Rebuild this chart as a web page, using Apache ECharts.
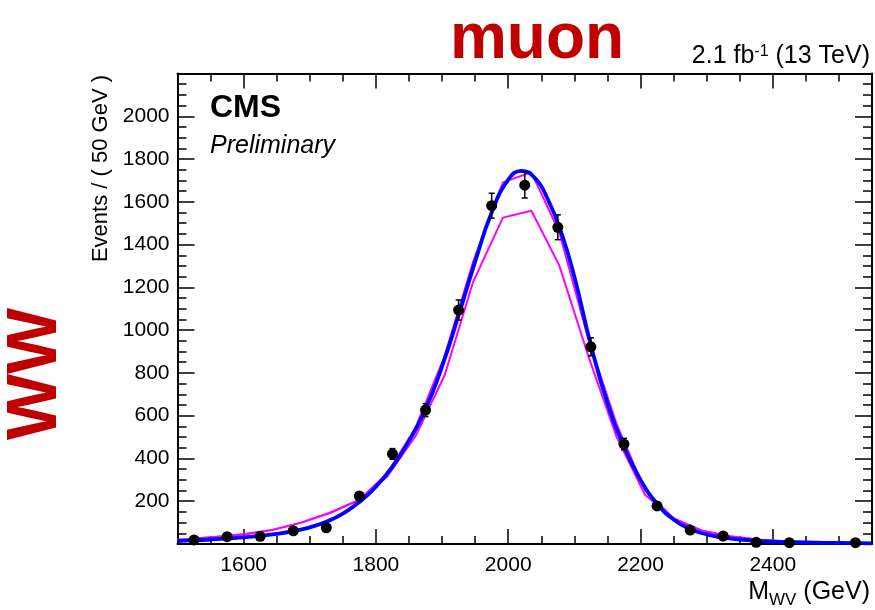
<!DOCTYPE html>
<html><head><meta charset="utf-8">
<script src="https://cdn.jsdelivr.net/npm/echarts@6/dist/echarts.min.js"></script>
<style>html,body{margin:0;padding:0;background:#fff}#c{width:875px;height:610px}</style>
</head><body><div id="c"></div>
<script>
// ---- data ----
const binCenters = [1525,1575,1625,1675,1725,1775,1825,1875,1925,1975,2025,2075,2125,2175,2225,2275,2325,2375,2425,2475,2525];
const dataValues = [19,34,36,62,76,224,421,626,1094,1582,1678,1481,922,467,178,65,37,8,6,null,6];
const dataErrors = [6,8,8,10,11,18,25,30,47,58,60,58,42,27,16,10,8,4,4,null,4];

const fitX = [1500,1525,1550,1575,1600,1625,1650,1675,1700,1725,1750,1775,1800,1825,1850,1875,1900,1925,1950,1975,2000,2020,2040,2060,2080,2100,2125,2150,2175,2200,2225,2250,2275,2300,2325,2350,2375,2400,2450,2500,2550];
const fitY = [14,17,21,26,31,38,47,60,78,104,142,196,268,362,482,630,830,1070,1320,1550,1703,1745,1712,1611,1458,1250,930,660,455,300,188,115,70,45,30,21,15,11,7,5,3];

const magX      = [1500,1514,1557,1600,1644,1687,1730,1774,1817,1860,1904,1947,1992,2035,2077,2121,2164,2207,2250,2293,2337,2380,2423,2466,2510,2550];
const magUpperY = [20,22,33,46,66,100,145,205,330,545,880,1320,1691,1738,1460,960,560,250,120,62,35,20,12,8,5,4];
const magLowerY = [20,22,33,46,66,100,145,205,315,505,790,1226,1526,1558,1304,880,500,229,120,62,35,20,12,8,5,4];

const xMajorTicks = [1600,1800,2000,2200,2400];
const xMinorTicks = [1550,1650,1700,1750,1850,1900,1950,2050,2100,2150,2250,2300,2350,2450,2500];

// ---- build ----
const pts = [], errs = [];
binCenters.forEach((x,i)=>{ if(dataValues[i]!=null){ pts.push([x,dataValues[i]]); errs.push([x,dataValues[i],dataErrors[i]]); } });
const fitData = fitX.map((x,i)=>[x,fitY[i]]);
const magU = magX.map((x,i)=>[x,magUpperY[i]]);
const magL = magX.map((x,i)=>[x,magLowerY[i]]);

const FONT = '"Liberation Sans", Arial, Helvetica, sans-serif';
const black = '#000';
const plain = v => String(v);
function xAx(pos, ticks, len, labels, line){
  return {type:'value', min:1500, max:2550, position:pos,
    axisLine:{show:line, onZero:false, lineStyle:{color:black,width:2}},
    axisTick:{show:true, inside:true, length:len, customValues:ticks, lineStyle:{color:black,width:1.5}},
    axisLabel:labels?{show:true, customValues:ticks, formatter:plain, color:black, fontSize:21, fontFamily:FONT, margin:11}:{show:false},
    splitLine:{show:false}};
}
function yAx(pos, labels){
  return {type:'value', min:0, max:2200, interval:200, position:pos,
    axisLine:{show:true, onZero:false, lineStyle:{color:black,width:2}},
    axisTick:{show:true, inside:true, length:17, lineStyle:{color:black,width:1.5}},
    minorTick:{show:true, splitNumber:4, length:9, lineStyle:{color:black,width:1.5}},
    axisLabel:labels?{show:true, formatter:plain, color:black, fontSize:21, fontFamily:FONT, margin:8, showMinLabel:false, showMaxLabel:false}:{show:false},
    splitLine:{show:false}, minorSplitLine:{show:false}};
}

const chart = echarts.init(document.getElementById('c'), null, {renderer:'canvas'});
chart.setOption({
  animation:false,
  backgroundColor:'#fff',
  grid:{left:177.5, right:3, top:73.5, bottom:66, containLabel:false},
  xAxis:[xAx('bottom',xMajorTicks,15,true,true), xAx('bottom',xMinorTicks,8,false,false),
         xAx('top',xMajorTicks,15,false,true), xAx('top',xMinorTicks,8,false,false)],
  yAxis:[yAx('left',true), yAx('right',false)],
  series:[
    {type:'line', data:magL, showSymbol:false, lineStyle:{color:'#ff00ff',width:2}, z:2},
    {type:'line', data:magU, showSymbol:false, lineStyle:{color:'#ff00ff',width:2}, z:2},
    {type:'line', data:fitData, showSymbol:false, smooth:0.5, lineStyle:{color:'#0000ff',width:3.8}, z:3},
    {type:'custom', data:errs, z:4, renderItem:function(params, api){
        const x=api.value(0), y=api.value(1), e=api.value(2);
        const t=api.coord([x,y+e]), b=api.coord([x,y-e]);
        const st={stroke:'#000',lineWidth:1.5};
        return {type:'group', children:[
          {type:'line', shape:{x1:t[0],y1:t[1],x2:b[0],y2:b[1]}, style:st},
          {type:'line', shape:{x1:t[0]-3,y1:t[1],x2:t[0]+3,y2:t[1]}, style:st},
          {type:'line', shape:{x1:b[0]-3,y1:b[1],x2:b[0]+3,y2:b[1]}, style:st}
        ]};
      }},
    {type:'scatter', data:pts, symbol:'circle', symbolSize:11, itemStyle:{color:'#000', opacity:1}, z:5}
  ],
  graphic:[
    {type:'text', x:537, y:40, style:{text:'muon', font:'bold 64px '+FONT, fill:'#c00000', align:'center', verticalAlign:'middle'}},
    {type:'text', x:870, y:56, style:{text:'{a|2.1 fb}{s|-1}{a| (13 TeV)}', align:'right', verticalAlign:'middle',
        rich:{a:{font:'25px '+FONT, fill:black, verticalAlign:'bottom'}, s:{font:'16px '+FONT, fill:black, verticalAlign:'top'}}}},
    {type:'text', x:37, y:374, rotation:Math.PI/2, style:{text:'WW', font:'bold 70px '+FONT, fill:'#c00000', align:'center', verticalAlign:'middle'}},
    {type:'text', x:100.5, y:75, rotation:Math.PI/2, style:{text:'Events / ( 50 GeV )', font:'22px '+FONT, fill:black, align:'right', verticalAlign:'middle'}},
    {type:'text', x:210, y:108, style:{text:'CMS', font:'bold 32px '+FONT, fill:black, align:'left', verticalAlign:'middle'}},
    {type:'text', x:210, y:146, style:{text:'Preliminary', font:'italic 25px '+FONT, fill:black, align:'left', verticalAlign:'middle'}},
    {type:'text', x:870, y:592, style:{text:'{m|M}{s|WV}{m| (GeV)}', align:'right', verticalAlign:'middle',
        rich:{m:{font:'25px '+FONT, fill:black}, s:{font:'17px '+FONT, fill:black, padding:[16,0,0,0]}}}}
  ]
});
</script></body></html>
